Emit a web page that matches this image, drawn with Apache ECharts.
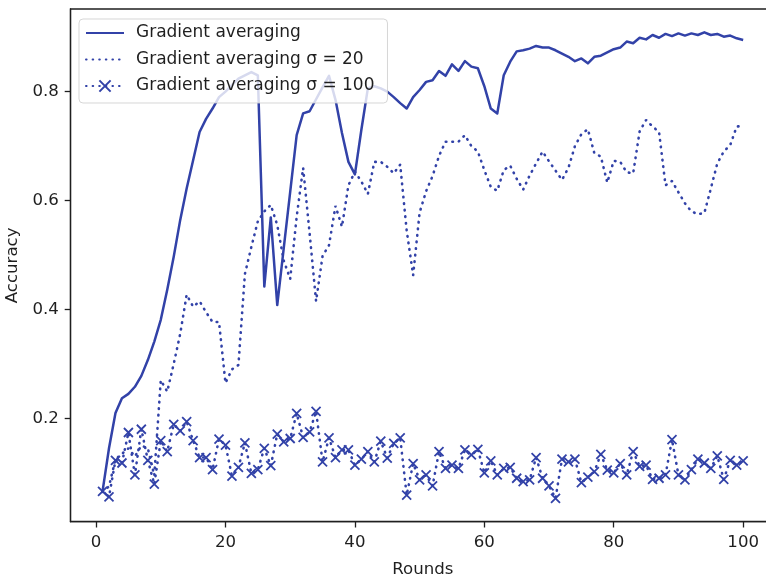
<!DOCTYPE html>
<html>
<head>
<meta charset="utf-8">
<script src="https://cdn.jsdelivr.net/npm/echarts@6/dist/echarts.min.js"></script>
<style>
  html, body { margin: 0; padding: 0; background: #ffffff; }
  #chart { width: 766px; height: 575px; }
</style>
</head>
<body>
<div id="chart"></div>
<script>
// Training rounds on the x axis
const rounds = [
  1, 2, 3, 4, 5, 6, 7, 8, 9, 10, 11, 12, 13, 14, 15, 16, 17, 18, 19, 20,
  21, 22, 23, 24, 25, 26, 27, 28, 29, 30, 31, 32, 33, 34, 35, 36, 37, 38, 39, 40,
  41, 42, 43, 44, 45, 46, 47, 48, 49, 50, 51, 52, 53, 54, 55, 56, 57, 58, 59, 60,
  61, 62, 63, 64, 65, 66, 67, 68, 69, 70, 71, 72, 73, 74, 75, 76, 77, 78, 79, 80,
  81, 82, 83, 84, 85, 86, 87, 88, 89, 90, 91, 92, 93, 94, 95, 96, 97, 98, 99, 100
];

// Accuracy per round, plain gradient averaging
const gradAvg = [
  0.066, 0.145, 0.210, 0.237, 0.245, 0.258, 0.278, 0.307, 0.341, 0.381,
  0.436, 0.497, 0.564, 0.622, 0.674, 0.726, 0.750, 0.769, 0.790, 0.800,
  0.812, 0.824, 0.830, 0.836, 0.830, 0.442, 0.569, 0.408, 0.512, 0.616,
  0.720, 0.760, 0.764, 0.786, 0.808, 0.829, 0.785, 0.724, 0.671, 0.648,
  0.730, 0.806, 0.810, 0.806, 0.800, 0.790, 0.779, 0.769, 0.790, 0.803,
  0.818, 0.821, 0.838, 0.829, 0.850, 0.838, 0.856, 0.846, 0.843, 0.810,
  0.769, 0.760, 0.830, 0.855, 0.874, 0.876, 0.879, 0.884, 0.881, 0.881,
  0.876, 0.870, 0.864, 0.856, 0.861, 0.852, 0.864, 0.866, 0.872, 0.878,
  0.881, 0.892, 0.889, 0.899, 0.896, 0.904, 0.899, 0.906, 0.902, 0.907,
  0.903, 0.907, 0.904, 0.909, 0.904, 0.906, 0.901, 0.903, 0.898, 0.895
];

// Accuracy per round, gradient averaging with sigma = 20
const gradAvgSigma20 = [
  0.065, 0.075, 0.125, 0.135, 0.145, 0.130, 0.150, 0.145, 0.095, 0.270,
  0.249, 0.300, 0.355, 0.427, 0.405, 0.415, 0.395, 0.377, 0.377, 0.265,
  0.290, 0.298, 0.465, 0.515, 0.562, 0.580, 0.592, 0.555, 0.490, 0.456,
  0.570, 0.660, 0.540, 0.415, 0.498, 0.518, 0.590, 0.552, 0.628, 0.653,
  0.635, 0.612, 0.671, 0.671, 0.662, 0.650, 0.666, 0.545, 0.463, 0.578,
  0.617, 0.645, 0.682, 0.708, 0.708, 0.708, 0.720, 0.700, 0.690, 0.656,
  0.625, 0.618, 0.656, 0.664, 0.640, 0.620, 0.646, 0.668, 0.690, 0.672,
  0.655, 0.638, 0.660, 0.700, 0.722, 0.731, 0.687, 0.681, 0.633, 0.673,
  0.671, 0.652, 0.650, 0.727, 0.748, 0.736, 0.726, 0.628, 0.636, 0.615,
  0.595, 0.580, 0.575, 0.577, 0.622, 0.668, 0.690, 0.702, 0.736, 0.737
];

// Accuracy per round, gradient averaging with sigma = 100
const gradAvgSigma100 = [
  0.066, 0.056, 0.123, 0.118, 0.174, 0.096, 0.180, 0.123, 0.079, 0.159,
  0.139, 0.189, 0.177, 0.194, 0.159, 0.128, 0.128, 0.106, 0.162, 0.151,
  0.094, 0.110, 0.155, 0.099, 0.106, 0.145, 0.113, 0.171, 0.157, 0.163,
  0.209, 0.165, 0.175, 0.213, 0.120, 0.164, 0.128, 0.142, 0.142, 0.114,
  0.125, 0.139, 0.120, 0.158, 0.127, 0.154, 0.164, 0.059, 0.117, 0.087,
  0.096, 0.076, 0.139, 0.108, 0.114, 0.108, 0.142, 0.133, 0.143, 0.100,
  0.122, 0.096, 0.108, 0.110, 0.090, 0.084, 0.087, 0.128, 0.090, 0.076,
  0.053, 0.125, 0.120, 0.125, 0.082, 0.092, 0.102, 0.134, 0.105, 0.100,
  0.117, 0.096, 0.139, 0.112, 0.114, 0.088, 0.090, 0.096, 0.161, 0.096,
  0.087, 0.106, 0.125, 0.118, 0.108, 0.131, 0.088, 0.123, 0.114, 0.122
];

const xTicks = [0, 20, 40, 60, 80, 100];
const yTicks = [0.2, 0.4, 0.6, 0.8];
const seriesNames = [
  'Gradient averaging',
  'Gradient averaging σ = 20',
  'Gradient averaging σ = 100'
];

const BLUE = '#3242a8';
const INK = '#1f1f1f';
const FONT = 'DejaVu Sans';
const DOTS = [0.6, 6.0];

const toPoints = (ys) => rounds.map((r, i) => [r, ys[i]]);
const crossSymbol = 'path://M0,0L10,10M10,0L0,10';

const chart = echarts.init(document.getElementById('chart'), null, { renderer: 'canvas' });

chart.setOption({
  animation: false,
  backgroundColor: '#ffffff',
  textStyle: { fontFamily: FONT },
  grid: {
    left: 70.5, top: 9, width: 704.7, height: 512.7,
    outerBoundsMode: 'none',
    containLabel: false,
    show: true, borderColor: INK, borderWidth: 1.3, backgroundColor: 'transparent'
  },
  legend: {
    orient: 'vertical',
    left: 79, top: 19,
    padding: [4, 13, 7, 6],
    itemGap: 6.5,
    itemWidth: 38,
    itemHeight: 14,
    backgroundColor: 'rgba(255,255,255,0.8)',
    borderColor: 'rgba(204,204,204,0.8)',
    borderWidth: 1,
    borderRadius: 4,
    textStyle: { fontFamily: FONT, fontSize: 17, color: INK, lineHeight: 20, padding: [0, 0, 0, 7] },
    data: [
      { name: seriesNames[0], itemStyle: { opacity: 0 } },
      { name: seriesNames[1], itemStyle: { opacity: 0 } },
      { name: seriesNames[2] }
    ]
  },
  xAxis: {
    type: 'value',
    min: -3.95, max: 104.95,
    axisLine: { show: true, onZero: false, lineStyle: { color: INK, width: 1.3 } },
    axisTick: { show: true, length: 5.8, customValues: xTicks, lineStyle: { color: INK, width: 1.3 } },
    axisLabel: { customValues: xTicks, margin: 12, fontFamily: FONT, fontSize: 16.6, color: INK },
    splitLine: { show: false },
    name: 'Rounds',
    nameLocation: 'middle',
    nameGap: 39,
    nameTextStyle: { fontFamily: FONT, fontSize: 16.6, color: INK }
  },
  yAxis: {
    type: 'value',
    min: 0.0102, max: 0.9518,
    axisLine: { show: true, onZero: false, lineStyle: { color: INK, width: 1.3 } },
    axisTick: { show: true, length: 5.8, customValues: yTicks, lineStyle: { color: INK, width: 1.3 } },
    axisLabel: { customValues: yTicks, margin: 11.6, fontFamily: FONT, fontSize: 16.6, color: INK },
    splitLine: { show: false },
    name: 'Accuracy',
    nameLocation: 'middle',
    nameGap: 48,
    nameTextStyle: { fontFamily: FONT, fontSize: 16.6, color: INK }
  },
  series: [
    {
      name: seriesNames[0],
      type: 'line',
      data: toPoints(gradAvg),
      symbol: 'none',
      lineStyle: { color: BLUE, width: 2.5, join: 'round' },
      itemStyle: { color: BLUE },
      z: 3
    },
    {
      name: seriesNames[1],
      type: 'line',
      data: toPoints(gradAvgSigma20),
      symbol: 'none',
      lineStyle: { color: BLUE, width: 2.6, type: DOTS, cap: 'round' },
      itemStyle: { color: BLUE },
      z: 3
    },
    {
      name: seriesNames[2],
      type: 'line',
      data: toPoints(gradAvgSigma100),
      symbol: crossSymbol,
      symbolSize: 9,
      showSymbol: true,
      showAllSymbol: true,
      lineStyle: { color: BLUE, width: 2.6, type: DOTS, cap: 'round' },
      itemStyle: { color: BLUE, borderColor: BLUE, borderWidth: 1.8 },
      z: 3
    }
  ]
});
</script>
</body>
</html>
